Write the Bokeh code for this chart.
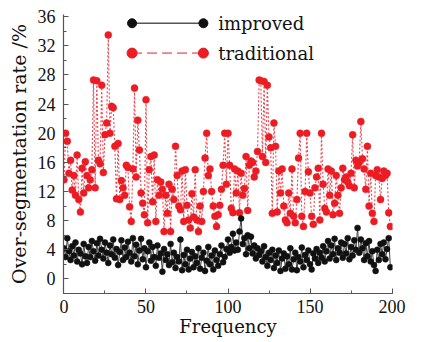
from bokeh.plotting import figure
from bokeh.models import Range1d, SingleIntervalTicker, ColumnDataSource
from bokeh.core.properties import value
from bokeh.embed import file_html
from bokeh.resources import INLINE

# ---------------- data ----------------
frequency = list(range(200))

traditional = [
    13.6, 20.0, 18.9, 14.5, 16.3, 12.2, 14.2, 11.5, 17.0, 10.9,
    9.2, 15.2, 11.8, 16.1, 14.2, 12.5, 13.6, 15.0, 27.3, 12.5,
    27.2, 16.3, 15.8, 26.6, 14.6, 19.8, 21.4, 33.5, 20.0, 23.7,
    23.5, 18.2, 11.0, 18.6, 10.9, 13.5, 12.5, 11.5, 15.6, 15.3,
    9.9, 7.9, 15.1, 26.2, 14.0, 21.8, 17.7, 11.8, 10.4, 8.8,
    24.6, 7.7, 15.0, 16.8, 10.6, 17.0, 7.9, 13.6, 11.5, 13.3,
    12.3, 6.5, 11.5, 9.0, 13.0, 6.5, 12.3, 10.9, 18.2, 14.2,
    10.0, 9.5, 14.8, 7.9, 15.0, 10.1, 8.1, 7.0, 11.7, 8.5,
    15.0, 8.1, 6.5, 10.0, 7.9, 12.0, 16.6, 20.0, 14.2, 15.1,
    12.0, 10.0, 8.6, 7.2, 8.8, 10.1, 12.3, 15.6, 20.0, 13.0,
    20.0, 15.6, 9.7, 9.1, 15.1, 11.8, 14.8, 9.1, 14.5, 11.5,
    12.4, 16.8, 9.4, 15.6, 16.2, 16.0, 14.0, 14.8, 17.5, 27.3,
    27.2, 16.8, 27.1, 16.0, 26.6, 19.5, 18.0, 9.0, 21.4, 18.2,
    9.2, 14.8, 11.8, 15.1, 10.0, 8.1, 7.7, 11.8, 9.0, 15.1,
    8.6, 7.7, 10.9, 16.6, 20.0, 8.6, 7.2, 12.0, 20.0, 14.7,
    11.8, 8.6, 7.5, 12.5, 14.0, 15.2, 8.1, 20.0, 13.0, 9.7,
    9.2, 15.1, 11.5, 14.8, 8.8, 10.4, 14.2, 11.5, 9.0, 12.5,
    15.2, 13.6, 14.0, 13.3, 12.8, 14.5, 19.8, 12.5, 16.3, 15.5,
    16.0, 21.6, 16.5, 15.1, 12.3, 18.2, 10.0, 14.5, 9.0, 7.9,
    14.2, 15.0, 14.0, 10.9, 13.8, 14.8, 14.2, 14.5, 9.1, 7.2,
]

improved = [
    4.2, 3.0, 5.6, 3.8, 2.6, 4.5, 3.2, 5.0, 2.4, 4.0,
    3.5, 2.0, 4.8, 3.1, 2.2, 4.4, 3.0, 5.2, 3.8, 2.5,
    4.9, 3.2, 5.5, 4.0, 2.8, 5.0, 3.6, 2.2, 4.6, 3.4,
    5.4, 2.9, 4.1, 1.9, 3.7, 5.3, 2.6, 4.3, 3.0, 5.1,
    3.6, 2.4, 5.6, 3.1, 4.7, 2.0, 3.9, 5.5, 2.7, 4.2,
    1.6, 3.8, 5.0, 2.5, 4.4, 3.0, 1.8, 4.6, 2.9, 3.5,
    1.0, 4.1, 2.6, 3.4, 1.9, 4.8, 2.3, 3.6, 1.5, 3.0,
    2.4, 5.4, 1.2, 3.3, 2.0, 4.0, 1.3, 2.8, 3.7, 1.6,
    3.1, 2.2, 4.2, 1.4, 2.9, 3.6, 1.1, 2.5, 4.4, 2.0,
    3.2, 1.3, 3.9, 2.6, 1.8, 3.4, 4.6, 2.3, 3.0, 4.1,
    5.4, 3.6, 4.4, 6.2, 3.9, 5.0, 4.0, 6.5, 8.3, 4.8,
    5.6, 3.4, 6.0, 4.2, 5.8, 3.5, 4.6, 2.8, 4.2, 3.3,
    3.8, 2.4, 4.5, 3.0, 1.8, 3.6, 2.6, 4.0, 1.5, 3.2,
    2.2, 3.9, 1.1, 2.8, 3.5, 1.4, 3.1, 2.0, 4.2, 1.3,
    2.7, 3.6, 1.2, 3.0, 2.4, 4.3, 1.6, 3.3, 2.6, 3.9,
    2.0, 1.3, 3.5, 2.8, 4.1, 2.2, 3.6, 2.9, 4.5, 2.4,
    3.8, 5.2, 2.8, 4.6, 3.4, 5.5, 2.6, 4.2, 3.6, 5.0,
    2.9, 4.8, 3.5, 5.6, 2.7, 4.4, 3.2, 5.3, 4.0, 7.0,
    3.6, 5.4, 4.2, 2.6, 4.9, 3.1, 5.2, 2.4, 3.8, 1.9,
    1.1, 4.0, 2.6, 4.8, 3.4, 5.0, 2.7, 4.1, 5.6, 1.6,
]

series_names = ["improved", "traditional"]
x_label = "Frequency"
y_label = "Over-segmentation rate /%"

# legend sample placement (in plot coordinates)
legend_x = [41.5, 85.0]
legend_y = [35.1, 31.0]
legend_text_x = 94.0

RED = "#ec1c24"
BLACK = "#111111"

src = ColumnDataSource(data=dict(f=frequency, imp=improved, tra=traditional))

p = figure(width=420, height=340, output_backend="svg", toolbar_location=None,
           x_range=Range1d(-0.3, 200.3), y_range=Range1d(-2.0, 36.3),
           min_border_left=63, min_border_right=28, min_border_top=14,
           min_border_bottom=47, background_fill_color="white",
           border_fill_color="white")
p.outline_line_color = None
p.grid.visible = False

# traditional series: dotted red line with red dots
p.line("f", "tra", source=src, line_color="#e8303c", line_width=1.1,
       line_dash="2 2", line_alpha=0.9)
p.scatter("f", "tra", source=src, size=7, fill_color=RED, line_color=RED,
          line_width=0.5)

# improved series: thin dark line with black dots
p.line("f", "imp", source=src, line_color="#444444", line_width=1.0)
p.scatter("f", "imp", source=src, size=6, fill_color=BLACK, line_color=BLACK,
          line_width=0.5)

# custom legend (markers at both ends of sample line)
p.line(legend_x, [legend_y[0]] * 2, line_color="#555555", line_width=1.5)
p.scatter(legend_x, [legend_y[0]] * 2, size=9, fill_color=BLACK, line_color=BLACK)
p.line(legend_x, [legend_y[1]] * 2, line_color="#f08080", line_width=1.6,
       line_dash="10 5")
p.scatter(legend_x, [legend_y[1]] * 2, size=10, fill_color=RED, line_color=RED)
p.text([legend_text_x, legend_text_x], legend_y, text=series_names,
       text_font=value("DejaVu Serif"), text_font_size="18px",
       text_baseline="middle", text_align="left", text_color="#111111")

# axes
p.xaxis.ticker = SingleIntervalTicker(interval=50, num_minor_ticks=2)
p.yaxis.ticker = SingleIntervalTicker(interval=4, num_minor_ticks=2)
p.xaxis.axis_label = x_label
p.yaxis.axis_label = y_label
for ax in (p.xaxis, p.yaxis):
    ax.axis_line_color = "#555555"
    ax.axis_line_width = 1.2
    ax.major_tick_line_color = "#555555"
    ax.minor_tick_line_color = "#555555"
    ax.major_tick_in = 5
    ax.major_tick_out = 0
    ax.minor_tick_in = 3
    ax.minor_tick_out = 0
    ax.major_label_text_font = "Liberation Serif"
    ax.major_label_text_font_size = "18px"
    ax.major_label_text_color = "#111111"
    ax.axis_label_text_font = "DejaVu Serif"
    ax.axis_label_text_font_style = "normal"
    ax.axis_label_text_color = "#111111"
p.xaxis.axis_label_text_font_size = "18px"
p.yaxis.axis_label_text_font_size = "19px"
p.xaxis.major_label_standoff = 6
p.xaxis.axis_label_standoff = 0
p.yaxis.major_label_standoff = 8
p.yaxis.axis_label_standoff = 5

open("out.html", "w").write(file_html(p, INLINE))
